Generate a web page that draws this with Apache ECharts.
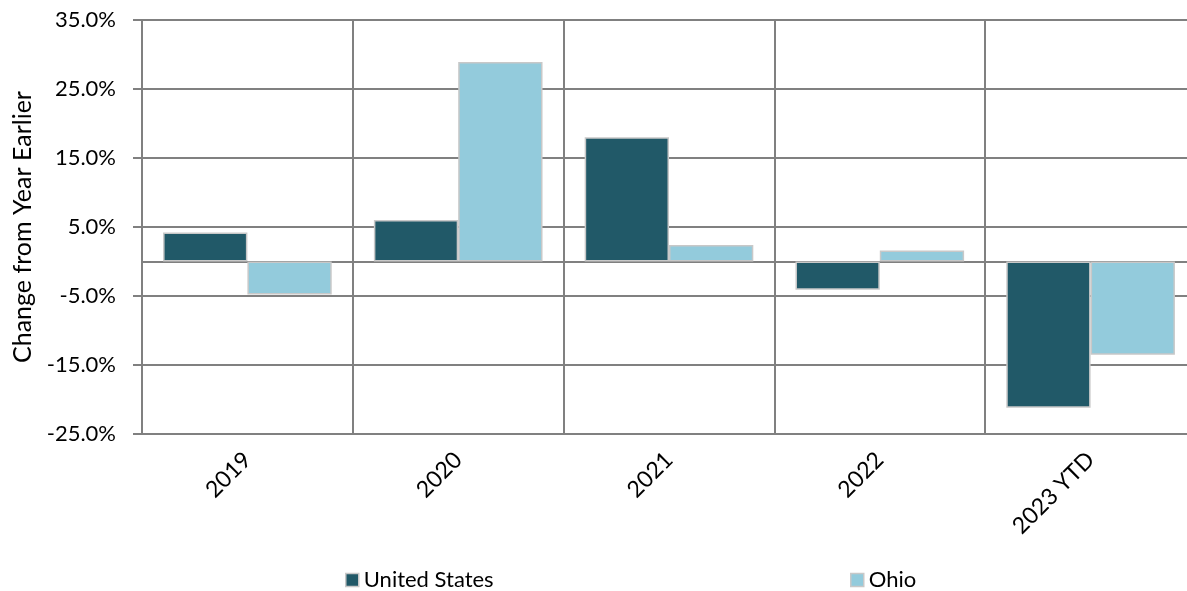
<!DOCTYPE html>
<html>
<head>
<meta charset="utf-8">
<script src="https://cdn.jsdelivr.net/npm/echarts@6/dist/echarts.min.js"></script>
<style>
  html, body { margin: 0; padding: 0; background: #ffffff; overflow: hidden; width: 1187px; height: 591px; }
  /* drawing surface is a little wider than the window so the plot runs past the right edge */
  #chart { width: 1200px; height: 591px; }
</style>
</head>
<body>
<div id="chart"></div>
<script>
// Year-over-year change, United States vs. Ohio (percent)
const categories = ['2019', '2020', '2021', '2022', '2023 YTD'];
const unitedStates = [4.2, 6.0, 18.0, -4.1, -21.2];
const ohio = [-4.8, 28.9, 2.4, 1.6, -13.5];
const yMin = -25;
const yMax = 35;
const yStep = 10;
const yTitle = 'Change from Year Earlier';

const FONT = 'Lato, "Open Sans", sans-serif';
const GRID_COLOR = '#808080';
const US_COLOR = '#215968';
const OH_COLOR = '#93CBDC';
const BAR_BORDER = '#c8c8c8';

const chart = echarts.init(document.getElementById('chart'), null, { renderer: 'canvas' });

chart.setOption({
  animation: false,
  backgroundColor: '#ffffff',
  textStyle: { fontFamily: FONT },
  grid: { left: 142, right: 4, top: 20, bottom: 157, containLabel: false },
  legend: [
    {
      data: ['United States'],
      left: 340, top: 564,
      icon: 'rect', itemWidth: 13, itemHeight: 13, itemGap: 0,
      textStyle: { fontFamily: FONT, fontSize: 22, color: '#000000' },
      itemStyle: { borderColor: BAR_BORDER, borderWidth: 1.5 }
    },
    {
      data: ['Ohio'],
      left: 845, top: 564,
      icon: 'rect', itemWidth: 13, itemHeight: 13, itemGap: 0,
      textStyle: { fontFamily: FONT, fontSize: 22, color: '#000000' },
      itemStyle: { borderColor: BAR_BORDER, borderWidth: 1.5 }
    }
  ],
  xAxis: [
    {
      type: 'category',
      data: categories,
      position: 'bottom',
      axisLine: { onZero: false, lineStyle: { color: GRID_COLOR, width: 2 } },
      axisTick: { show: false },
      splitLine: { show: true, interval: 0, lineStyle: { color: GRID_COLOR, width: 2 } },
      axisLabel: {
        interval: 0, rotate: 45, margin: 22,
        fontFamily: FONT, fontSize: 23, color: '#000000'
      }
    },
    {
      // zero baseline drawn beneath the bars
      type: 'category',
      data: categories,
      position: 'top',
      axisLine: { show: true, onZero: true, lineStyle: { color: GRID_COLOR, width: 2 } },
      axisTick: { show: false },
      axisLabel: { show: false },
      splitLine: { show: false }
    }
  ],
  yAxis: {
    type: 'value',
    min: yMin, max: yMax, interval: yStep,
    name: yTitle,
    nameLocation: 'middle',
    nameRotate: 90,
    nameGap: 106,
    nameTextStyle: { fontFamily: FONT, fontSize: 25, color: '#000000' },
    axisLine: { show: true, lineStyle: { color: GRID_COLOR, width: 2 } },
    axisTick: { show: true, length: 9, lineStyle: { color: GRID_COLOR, width: 2 } },
    splitLine: { show: true, lineStyle: { color: GRID_COLOR, width: 2 } },
    axisLabel: {
      margin: 26,
      fontFamily: FONT, fontSize: 22, color: '#000000',
      formatter: v => v.toFixed(1) + '%'
    }
  },
  series: [
    {
      name: 'United States',
      type: 'bar',
      xAxisIndex: 0,
      data: unitedStates,
      barGap: '0%',
      barCategoryGap: '20%',
      itemStyle: { color: US_COLOR, borderColor: BAR_BORDER, borderWidth: 1.5 }
    },
    {
      name: 'Ohio',
      type: 'bar',
      xAxisIndex: 0,
      data: ohio,
      barGap: '0%',
      barCategoryGap: '20%',
      itemStyle: { color: OH_COLOR, borderColor: BAR_BORDER, borderWidth: 1.5 }
    }
  ]
});
</script>
</body>
</html>
